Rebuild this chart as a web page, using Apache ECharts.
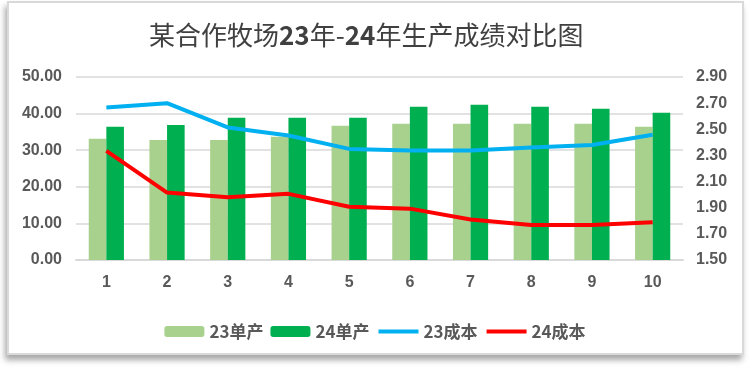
<!DOCTYPE html>
<html>
<head>
<meta charset="utf-8">
<script src="https://cdn.jsdelivr.net/npm/echarts@6/dist/echarts.min.js"></script>
<style>
html,body{margin:0;padding:0;background:#fff;}
#frame{position:absolute;left:7px;top:1px;width:733px;height:350px;border:2px solid #d9d9d9;background:#fff;box-shadow:-2px 5px 6px rgba(0,0,0,0.35);}
#main{position:absolute;left:0;top:0;width:750px;height:368px;}
</style>
</head>
<body>
<div id="frame"></div>
<div id="main"></div>
<script>
const categories = ['1','2','3','4','5','6','7','8','9','10'];
const yield23 = [33.1, 32.8, 32.8, 33.7, 36.7, 37.2, 37.2, 37.2, 37.2, 36.4];
const yield24 = [36.4, 36.9, 38.9, 38.9, 38.9, 41.9, 42.4, 41.9, 41.3, 40.2];
const cost23 = [2.667, 2.70, 2.514, 2.452, 2.35, 2.337, 2.337, 2.36, 2.38, 2.458];
const cost24 = [2.335, 2.016, 1.98, 2.006, 1.908, 1.893, 1.81, 1.768, 1.768, 1.789];
const seriesNames = ['23单产','24单产','23成本','24成本'];
const titleParts = ['某合作牧场','23','年-','24','年生产成绩对比图'];

const chart = echarts.init(document.getElementById('main'), null, {renderer:'canvas'});
const labelStyle = {color:'#595959', fontWeight:'bold', fontSize:16, fontFamily:'Liberation Sans, Arial, sans-serif'};
const titleText = titleParts.map((p,i)=> (i%2 ? '{b|' : '{a|') + p + '}').join('');
chart.setOption({
  backgroundColor:'transparent',
  animation:false,
  title:{text:titleText, left:144, top:17,
    textStyle:{rich:{
      a:{fontFamily:'Noto Sans CJK SC', fontWeight:'normal', fontSize:26, color:'#404040'},
      b:{fontFamily:'Noto Sans CJK SC', fontWeight:'bold', fontSize:26, color:'#404040'}
    }}},
  grid:{left:76, right:67, top:77, bottom:108},
  legend:{left:'center', top:318, itemWidth:40, itemHeight:11, itemGap:7,
    data:[
      {name:seriesNames[0]},
      {name:seriesNames[1]},
      {name:seriesNames[2], itemStyle:{opacity:0}, lineStyle:{width:4}},
      {name:seriesNames[3], itemStyle:{opacity:0}, lineStyle:{width:4}}
    ],
    textStyle:{color:'#595959', fontWeight:'bold', fontSize:17, fontFamily:'Noto Sans CJK SC'}},
  xAxis:{type:'category', data:categories,
    axisLine:{lineStyle:{color:'#d9d9d9', width:2}}, axisTick:{show:false},
    axisLabel:Object.assign({margin:15}, labelStyle)},
  yAxis:[
    {type:'value', min:0, max:50, interval:10,
     axisLabel:Object.assign({margin:14, formatter:v=>v.toFixed(2)}, labelStyle),
     splitLine:{lineStyle:{color:'#d9d9d9', width:1.5}}, axisLine:{show:false}, axisTick:{show:false}},
    {type:'value', min:1.5, max:2.9, interval:0.2,
     axisLabel:Object.assign({margin:13, formatter:v=>v.toFixed(2)}, labelStyle),
     splitLine:{show:false}, axisLine:{show:false}, axisTick:{show:false}}
  ],
  series:[
    {name:seriesNames[0], type:'bar', data:yield23, barGap:'0%', barCategoryGap:'42%', itemStyle:{color:'#A9D18E'}},
    {name:seriesNames[1], type:'bar', data:yield24, barGap:'0%', barCategoryGap:'42%', itemStyle:{color:'#00B050'}},
    {name:seriesNames[2], type:'line', yAxisIndex:1, data:cost23, symbol:'none', lineStyle:{color:'#00B0F0', width:4}, itemStyle:{color:'#00B0F0'}},
    {name:seriesNames[3], type:'line', yAxisIndex:1, data:cost24, symbol:'none', lineStyle:{color:'#FF0000', width:4}, itemStyle:{color:'#FF0000'}}
  ]
});
</script>
</body>
</html>
